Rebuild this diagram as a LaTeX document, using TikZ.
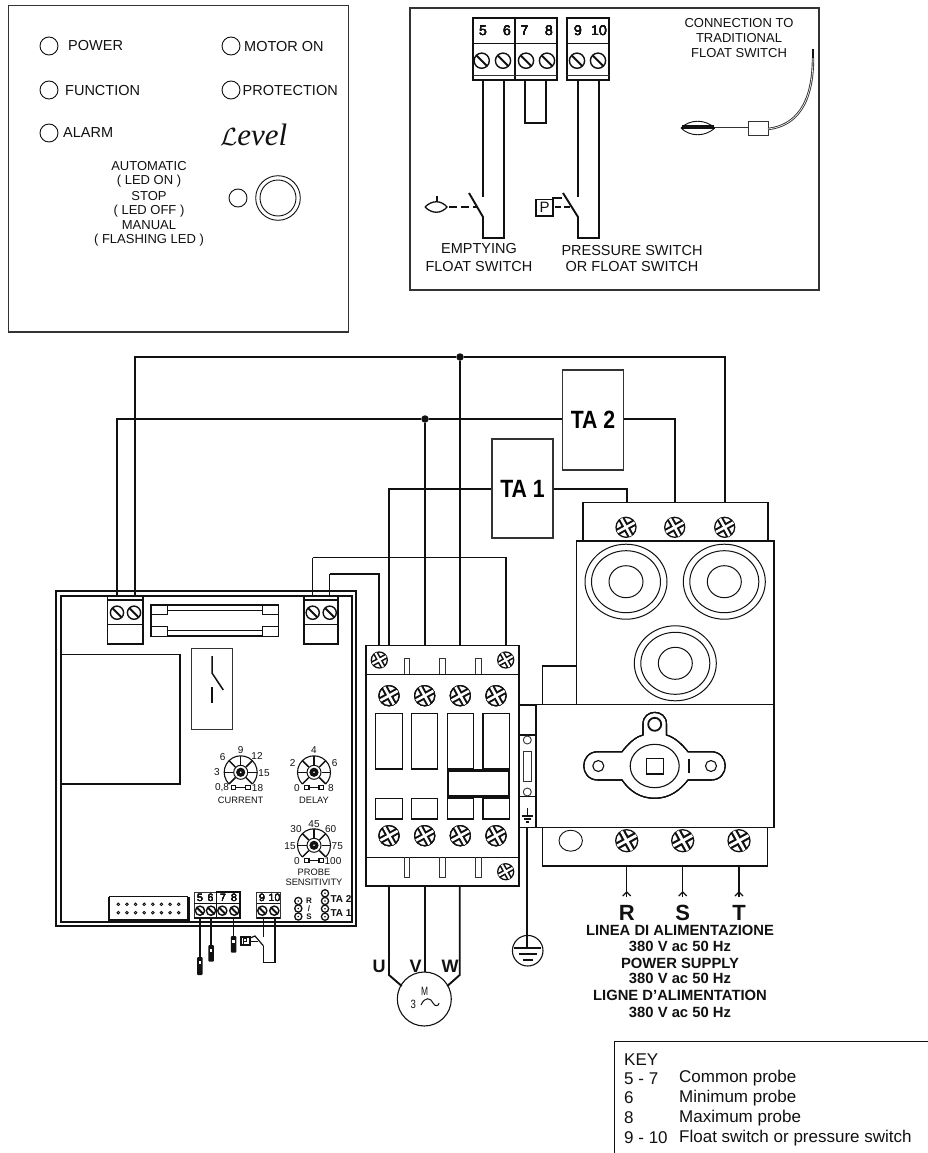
\documentclass[tikz,border=0pt]{standalone}
\usepackage{fontspec}
\setmainfont{Liberation Sans}
\newfontfamily\levelfont{Liberation Serif}
\usetikzlibrary{calc}
\definecolor{ink}{HTML}{111111}
\definecolor{edge}{HTML}{333333}
\tikzset{
  thinline/.style={draw=edge,line width=1.1pt},
  wire/.style={draw=ink,line width=1.9pt},
  wirethin/.style={draw=ink,line width=1.2pt},
  heavy/.style={draw=ink,line width=2pt},
  lbl/.style={inner sep=0pt,text=ink,font=\fontsize{#1}{#1}\selectfont},
  lbl/.default=14.5,
  blbl/.style={inner sep=0pt,text=ink,font=\bfseries\fontsize{#1}{#1}\selectfont},
  junction/.style={circle,fill=ink,inner sep=0pt,minimum size=7.5pt},
  tabox/.style={rectangle,draw=edge,line width=1.1pt,fill=white,inner sep=0pt,minimum width=61pt,minimum height=99pt,font=\bfseries\fontsize{25}{25}\selectfont}
}
% slotted screw
\newcommand{\slotscrew}[3]{%
  \draw[draw=ink,line width=1.4pt,fill=white] (#1,#2) circle (#3);
  \draw[draw=ink,line width=1.9pt] ($(#1,#2)+(-.72*#3,-.72*#3)$) -- ($(#1,#2)+(.72*#3,.72*#3)$);}
% cross-head screw
\newcommand{\crossscrew}[3]{%
  \draw[draw=ink,line width=1.3pt,fill=white] (#1,#2) circle (#3);
  \begin{scope}
  \clip (#1,#2) circle (#3);
  \draw[draw=ink,line width=#3*.66pt] ($(#1,#2)+(-#3,.55*#3)$) -- ($(#1,#2)+(#3,-.55*#3)$);
  \draw[draw=ink,line width=#3*.66pt] ($(#1,#2)+(-.55*#3,-#3)$) -- ($(#1,#2)+(.55*#3,#3)$);
  \draw[draw=white,line width=#3*.26pt] ($(#1,#2)+(-#3,.55*#3)$) -- ($(#1,#2)+(#3,-.55*#3)$);
  \draw[draw=white,line width=#3*.26pt] ($(#1,#2)+(-.55*#3,-#3)$) -- ($(#1,#2)+(.55*#3,#3)$);
  \end{scope}}
% potentiometer dial
\newcommand{\dial}[2]{%
  \draw[draw=ink,line width=1.1pt] plot[smooth,domain=135:405,samples=19] ({#1+16.5*cos(\x)},{#2+16.5*sin(\x)});
  \foreach \a in {135,180,225,270,315,360,405}{
    \draw[draw=ink,line width=1.5pt] ({#1+7.5*cos(\a)},{#2+7.5*sin(\a)}) -- ({#1+16.5*cos(\a)},{#2+16.5*sin(\a)});}
  \draw[draw=ink,line width=1pt,fill=white] (#1,#2) circle (7);
  \fill[ink] (#1,#2) circle (4.6);
  \fill[white] (#1,#2) circle (.9);
  \draw[draw=ink,line width=1pt] ({#1-7},{#2+15.5}) -- ({#1+7},{#2+15.5});
  \draw[draw=ink,line width=1.1pt,fill=white] ({#1-9.5},{#2+13.5}) rectangle ({#1-5},{#2+17.5});
  \draw[draw=ink,line width=1.1pt,fill=white] ({#1+5},{#2+13.5}) rectangle ({#1+9.5},{#2+17.5});}
\begin{document}
\begin{tikzpicture}[x=1pt,y=-1pt]
\useasboundingbox (0,0) rectangle (928,1153);
\fill[white] (0,0) rectangle (928,1153);

%% ---------- front panel
\draw[thinline] (8.5,5.5) rectangle (348.5,332);
\foreach \cx/\cy/\r in {49/46/9,49/90/9,49/133/9,231/46/9,231/90/9,238/198/9}
  \draw[draw=ink,line width=.9pt] (\cx,\cy) circle (\r);
\draw[draw=ink,line width=.9pt] (278,198) circle (22.3);
\draw[draw=ink,line width=.9pt] (278,198) circle (18);
\node[lbl,anchor=west] (tpower) at (68,46) {POWER};
\node[lbl,anchor=west] (tfunc) at (65,90.5) {FUNCTION};
\node[lbl,anchor=west] (talarm) at (63,132.5) {ALARM};
\node[lbl,anchor=west] (tmotor) at (244,47) {MOTOR ON};
\node[lbl,anchor=west] (tprot) at (242.5,90.5) {PROTECTION};
\node[inner sep=0pt,anchor=west,text=ink] (tlevel) at (220,135) {\fontsize{31}{31}\selectfont$\mathcal{L}$\levelfont\itshape evel};
\foreach \n/\y/\t in {a1/166/AUTOMATIC,a2/181/( LED ON ),a3/196/STOP,a4/211/( LED OFF ),a5/225/MANUAL,a6/240.5/( FLASHING LED )}
  \node[lbl=13] (\n) at (149,\y) {\t};

%% ---------- terminal panel
\draw[thinline] (410,8) rectangle (819,290);
\draw[heavy,fill=white] (473,18) rectangle (515,80);
\draw[heavy,fill=white] (515,18) rectangle (557,80);
\draw[heavy,line width=1.3pt,fill=white] (567,18) rectangle (609,80);
\foreach \a/\b in {473/557,567/609}{
  \draw[draw=ink,line width=1pt] (\a,44) -- (\b,44);
  \draw[draw=edge,line width=1pt] (\a,76) -- (\b,76);}
\foreach \sx in {481.7,503,526,547,577,598} \slotscrew{\sx}{60.7}{7.6}
\foreach \n/\sx/\t in {n5/483/5,n6/507/6,n7/524.5/7,n8/549/8,n9/578/9,n10/599/10}
  \node[lbl=14] (\n) at (\sx,31) {\t};
\draw[wire] (483,80) -- (483,197);
\draw[wire] (469,193) -- (483,217) -- (483,238) -- (504,238) -- (504,80);
\draw[wire] (525,80) -- (525,123) -- (546,123) -- (546,80);
\draw[wire] (578,80) -- (578,197);
\draw[wire] (563,193) -- (578,217) -- (578,238) -- (599,238) -- (599,80);
% float symbol
\draw[draw=ink,line width=1.3pt] (425,207) .. controls (432,200) and (441,200) .. (447,207) .. controls (441,214) and (432,214) .. (425,207);
\draw[draw=ink,line width=1.5pt] (437,196) -- (437,202);
\draw[draw=ink,line width=1.5pt,dash pattern=on 8pt off 4pt] (449,207) -- (478,207);
% P symbol
\draw[draw=ink,line width=1pt] (536,199) rectangle (552,215);
\draw[draw=ink,line width=2pt] (536,199) -- (536,216) -- (553,216) -- (553,198) -- (562,198);
\node[lbl=15] (pbig) at (544.5,207.3) {P};
\draw[draw=ink,line width=1.5pt,dash pattern=on 6pt off 3pt] (555,207) -- (571,207);
\node[lbl] (l1) at (479,249) {EMPTYING};
\node[lbl] (l2) at (479,267) {FLOAT SWITCH};
\node[lbl] (l3) at (632,251) {PRESSURE SWITCH};
\node[lbl] (l4) at (632,267) {OR FLOAT SWITCH};
\node[lbl=13] (l5) at (739,23) {CONNECTION TO};
\node[lbl=13] (l6) at (739,38) {TRADITIONAL};
\node[lbl=13] (l7) at (739,53) {FLOAT SWITCH};
% traditional float
\draw[draw=ink,line width=.9pt] (681,128) .. controls (690,119) and (705,119) .. (715,128) .. controls (705,137) and (690,137) .. (681,128);
\draw[draw=ink,line width=4.5pt] (682,127) -- (714,127);
\draw[draw=edge,line width=.9pt,double=white,double distance=.6pt] (715,128) -- (748,128);
\draw[draw=edge,line width=1pt,fill=white] (748,122) rectangle (768,135);
\draw[draw=edge,line width=.9pt,double=white,double distance=.6pt] (768,129) .. controls (795,126) and (813,105) .. (813,58);
\draw[draw=ink,line width=1.3pt] (813,49.5) -- (813,58);

%% ---------- controller board
\draw[heavy] (55.7,590.7) rectangle (355.7,925.7);
\draw[heavy] (61,595.7) rectangle (352,922);
% transformer block
\draw[wirethin] (61,654.3) -- (180,654.3) -- (180,784) -- (61,784);
% relay
\draw[thinline] (191.3,648.7) rectangle (232.3,729.3);
\draw[draw=ink,line width=1.5pt] (212,656) -- (212,673) -- (223.3,690);
\draw[draw=ink,line width=1.5pt] (212,687) -- (212,703);
% fuse
\draw[draw=ink,line width=1.4pt,fill=white] (151,605) rectangle (278.7,636);
\draw[draw=ink,line width=1pt] (167,610.7) -- (262,610.7);
\draw[draw=ink,line width=1pt] (167,630) -- (262,630);
\foreach \xa/\xb in {151/167.3,262.3/278.7}{
  \draw[draw=ink,line width=1pt,fill=white] (\xa,605) rectangle (\xb,614);
  \draw[draw=ink,line width=1pt,fill=white] (\xa,626.7) rectangle (\xb,636);}
% top terminals
\foreach \xa/\xb/\sa/\sb in {107.7/143/117/134,304/338/312.7/329.7}{
  \draw[draw=ink,line width=1.2pt,fill=white] (\xa,596.7) rectangle (\xb,644);
  \draw[draw=ink,line width=1.8pt] (\xa,600) -- (\xb,600);
  \draw[draw=ink,line width=1pt] (\xa,624) -- (\xb,624);
  \slotscrew{\sa}{612.7}{6.6}
  \slotscrew{\sb}{612.7}{6.6}}
% dials
\dial{240.7}{772.3}
\dial{314}{772.3}
\dial{314}{845.3}
\foreach \n/\px/\py/\t in {c1/222.7/756.7/6,c2/240.7/750/9,c3/257/756/12,c4/217/772.5/3,c5/264/772.7/15,c6/222/788/{0,8},c7/257.5/788/18,d1/314/750.5/4,d2/292.7/763/2,d3/334.7/763/6,d4/297/788/0,d5/331/788/8,p1/314/824.5/45,p2/296/829/30,p3/330.7/829/60,p4/290/845.7/15,p5/337.3/846/75,p6/297/861/0,p7/333/861/100}
  \node[lbl=10] (\n) at (\px,\py) {\t};
\node[lbl=9.3] (tcur) at (240.7,800) {CURRENT};
\node[lbl=9.3] (tdel) at (314,800) {DELAY};
\node[lbl=9.3] (tprobe) at (314,872.5) {PROBE};
\node[lbl=9.3] (tsens) at (314,882.5) {SENSITIVITY};
% header
\draw[draw=ink,line width=1pt] (109,896.7) -- (188.3,896.7);
\draw[draw=ink,line width=2.4pt] (109,896.7) -- (109,920) -- (188.3,920) -- (188.3,896.7);
\foreach \i in {0,...,7}{
  \draw[draw=ink,line width=.9pt] ({118.3+\i*8.63},904.3) circle (1.3);
  \draw[draw=ink,line width=.9pt] ({118.3+\i*8.63},912.7) circle (1.3);}
% bottom terminals
\draw[draw=edge,line width=.9pt,fill=white] (194.3,892.3) rectangle (216.7,918.3);
\draw[draw=ink,line width=1.5pt,fill=white] (216.7,891.8) rectangle (240,918.3);
\draw[draw=edge,line width=.9pt,fill=white] (256.7,892.3) rectangle (280,918.3);
\draw[draw=ink,line width=1pt] (194.3,903.3) -- (240,903.3);
\draw[draw=ink,line width=1pt] (256.7,903.3) -- (280,903.3);
\draw[draw=ink,line width=1.6pt] (194.3,918) -- (240,918);
\draw[draw=ink,line width=1.6pt] (256.7,918) -- (280,918);
\foreach \sx in {200,211,222.3,234.3,262.3,274.3} \slotscrew{\sx}{910.7}{4.6}
\foreach \n/\sx/\t in {b5/200/5,b6/210.5/6,b7/223/7,b8/234/8,b9/262/9,b10/274.5/10}
  \node[lbl=10.5] (\n) at (\sx,898) {\t};
% R/S, TA pads
\foreach \py in {901,908.5,916.5}{
  \draw[draw=ink,line width=1.3pt] (298.3,\py) circle (3.6);
  \fill[ink] (298.3,\py) circle (.9);}
\foreach \py in {893.3,901,908.7,916.7}{
  \draw[draw=ink,line width=1.3pt] (325,\py) circle (3.6);
  \fill[ink] (325,\py) circle (.9);}
\node[blbl=8] (rr) at (309,901) {R};
\node[blbl=8] (rs) at (309,909) {/};
\node[blbl=8] (rt) at (309,917) {S};
\node[blbl=10] (ta2s) at (341,899) {TA 2};
\node[blbl=10] (ta1s) at (341,913) {TA 1};
% probes
\coordinate (w5) at (200,918);
\coordinate (w6) at (211.3,918);
\coordinate (w8) at (233.5,918);
\coordinate (w5e) at (200,957);
\coordinate (w6e) at (211.3,945);
\coordinate (w8e) at (233.5,936);
\draw[wire] (w5) -- (w5e);
\draw[wire] (w6) -- (w6e);
\draw[wire] (w8) -- (w8e);
\foreach \xa/\ya/\yb in {197/957/975,208.3/945/961.7,230.8/936/952.7}{
  \fill[ink,rounded corners=1pt] (\xa,\ya) rectangle ({\xa+5.6},\yb);
  \fill[white] ({\xa+1.6},{\ya+3.5}) rectangle ({\xa+4},{\ya+7});}
% small P switch
\draw[draw=ink,line width=1.8pt] (240.7,937) rectangle (250,945);
\draw[draw=ink,line width=1pt] (243,943.5) -- (243,938.5) -- (246,938.5) -- (246,941) -- (243,941);
\draw[draw=ink,line width=1.2pt] (250,938) -- (255,936) -- (263.3,945.7);
\draw[draw=ink,line width=1pt] (250,941) -- (258,941);
\draw[draw=ink,line width=.9pt] (263.3,918) -- (263.3,937);
\draw[draw=ink,line width=1.5pt] (263.3,945.7) -- (263.3,962.7) -- (275,962.7) -- (275,918);

%% ---------- contactor
\draw[draw=ink,line width=1.4pt,fill=white] (366,645.7) rectangle (519,886);
\draw[draw=ink,line width=1.3pt] (366,674.3) -- (519,674.3);
\draw[draw=ink,line width=1.3pt] (366,857.3) -- (519,857.3);
\foreach \sx in {406.7,442.3,478.3}{
  \draw[draw=edge,line width=1pt] ({\sx-2.7},674.3) -- ({\sx-2.7},658.5) -- ({\sx+2.7},658.5) -- ({\sx+2.7},674.3);
  \draw[draw=edge,line width=1pt] ({\sx-2.7},857.3) -- ({\sx-2.7},877.3) -- ({\sx+2.7},877.3) -- ({\sx+2.7},857.3);}
\foreach \sx/\sy in {379.3/660,505.7/660,505.7/871.7} \crossscrew{\sx}{\sy}{8}
\foreach \sx in {389,424.7,460.3,496}{
  \crossscrew{\sx}{695.7}{10}
  \crossscrew{\sx}{835.7}{10}}
\foreach \xa/\xb in {375.7/402.3,411.7/437.3,447.7/473.3,483/509.3}{
  \draw[draw=ink,line width=1.5pt] (\xa,713.3) rectangle (\xb,769);
  \draw[draw=ink,line width=1.5pt] (\xa,798.7) rectangle (\xb,819);}
\draw[draw=ink,line width=2.2pt,fill=white] (447.7,770.5) rectangle (509.3,796.5);
% side auxiliary
\draw[draw=ink,line width=1.2pt] (519.3,705) rectangle (536,827.3);
\draw[draw=ink,line width=1.4pt] (519.3,735) -- (536,735);
\draw[draw=ink,line width=1.4pt] (519.3,796.7) -- (536,796.7);
\draw[draw=edge,line width=.9pt] (527.3,740) circle (4);
\draw[draw=edge,line width=.9pt] (527.3,792) circle (4);
\draw[draw=edge,line width=.9pt] (523.3,751.7) rectangle (531.7,781);
\draw[draw=ink,line width=1.3pt] (527.3,808) -- (527.3,816);
\draw[draw=ink,line width=1.3pt] (522,816) -- (532.6,816);
\draw[draw=ink,line width=1.3pt] (524,819) -- (530.6,819);
\draw[draw=ink,line width=1.3pt] (525.8,822) -- (528.8,822);

%% ---------- earth
\draw[draw=ink,line width=1.1pt] (527.7,950.7) circle (15.3);
\coordinate (earthtop) at (527.3,827.3);
\coordinate (earthend) at (527.3,948);
\draw[wire] (earthtop) -- (earthend);
\draw[draw=ink,line width=1.4pt] (514,948) -- (541,948);
\draw[draw=ink,line width=1.4pt] (519,954) -- (536.5,954);
\draw[draw=ink,line width=1.4pt] (523,960) -- (532.5,960);

%% ---------- motor
\node[circle,draw=ink,line width=1.1pt,inner sep=0pt,minimum size=54pt] (motor) at (424.3,999) {};
\coordinate (kU) at (389,886);
\coordinate (kV) at (424.7,886);
\coordinate (kW) at (459.7,886);
\draw[wire] (kU) -- (389,975) -- (401.7,986);
\draw[wire] (kV) -- (424.7,972);
\draw[wire] (kW) -- (459.7,975) -- (447.3,986);
\node[blbl=18] (tu) at (379,966) {U};
\node[blbl=18] (tv) at (415.7,966) {V};
\node[blbl=18] (tw) at (450,966) {W};
\node[lbl=12] (tm) at (424.7,991.7) {\scalebox{.7}[1]{M}};
\node[lbl=12] (t3) at (413.3,1004) {\scalebox{.8}[1]{3}};
\draw[draw=ink,line width=1pt] (421,1005) .. controls (425,996) and (431,998) .. (433,1003) .. controls (435,1007) and (439,1006) .. (439,1003);

%% ---------- breaker
\draw[draw=ink,line width=1.1pt] (583,502.7) rectangle (768,541);
\foreach \sx in {626,674.7,724.7} \crossscrew{\sx}{527.3}{10}
\draw[draw=ink,line width=1.2pt] (576.7,541) rectangle (774,704.7);
\draw[draw=ink,line width=1.1pt] (542.7,704.7) -- (542.7,666) -- (576.7,666);
\foreach \cx/\cy in {626/581.7,724.3/581.7,675.3/663.3}{
  \draw[draw=ink,line width=1pt] (\cx,\cy) ellipse [x radius=41,y radius=37.5];
  \draw[draw=ink,line width=1pt] (\cx,\cy) ellipse [x radius=34.5,y radius=31];
  \draw[draw=ink,line width=1pt] (\cx,\cy) ellipse [x radius=17,y radius=16];}
\draw[draw=ink,line width=1.2pt] (536,704.7) rectangle (774,827.3);
\draw[draw=ink,line width=1.1pt] (542.7,827.3) rectangle (767.3,866);
\draw[draw=ink,line width=.9pt] (570.7,840.7) ellipse [x radius=11.7,y radius=10.5];
\foreach \sx in {626.7,682.7,739} \crossscrew{\sx}{840.7}{11}
% rotary handle
\draw[draw=ink,line width=1.1pt] (598,751.7) -- (622,751.7) .. controls (628,744) and (635,737) .. (643,735) -- (643,724) .. controls (643,708.5) and (666.5,708.5) .. (666.5,724) -- (666.5,735) .. controls (674,737) and (682,744) .. (688,751.7) -- (711,751.7) .. controls (730,751.7) and (730,780) .. (711,780) -- (688,780) .. controls (680,790) and (670,798.3) .. (654.7,798.3) .. controls (639,798.3) and (629,790) .. (622,780) -- (598,780) .. controls (579,780) and (579,751.7) .. (598,751.7) -- cycle;
\draw[draw=ink,line width=1.1pt] (654.7,766) ellipse [x radius=24.5,y radius=21.7];
\draw[draw=ink,line width=1.1pt] (646.3,758.7) rectangle (663.7,774);
\draw[draw=ink,line width=1.8pt] (654.7,724.3) circle (6.5);
\draw[draw=ink,line width=1.1pt] (598.3,766) circle (5.5);
\draw[draw=ink,line width=1.1pt] (711,766) circle (5.5);
\draw[draw=ink,line width=1.6pt] (689,759) -- (689,773);
% supply stubs
\foreach \n/\sx/\t in {R/626.7/R,S/682.7/S,T/739/T}{
  \coordinate (in\n) at (\sx,866);
  \coordinate (end\n) at (\sx,897);
  \draw[draw=ink,line width=1.5pt] (in\n) -- (end\n);
  \draw[draw=ink,line width=1.2pt] ({\sx-4},896) -- (\sx,892) -- ({\sx+4},896);
  \node[blbl=22] (t\n) at (\sx,912.5) {\t};}
\foreach \n/\y/\t in {s1/930.7/LINEA DI ALIMENTAZIONE,s2/946.7/380 V ac 50 Hz,s3/963/POWER SUPPLY,s4/978/380 V ac 50 Hz,s5/995.7/LIGNE D'ALIMENTATION,s6/1012/380 V ac 50 Hz}
  \node[blbl=14.8] (\n) at (680,\y) {\t};

%% ---------- wiring
\node[junction] (j1) at (460,357) {};
\node[junction] (j2) at (425,419) {};
\node[tabox,minimum height=100pt] (ta2) at (593,420) {\scalebox{.85}[1]{TA 2}};
\node[tabox] (ta1) at (522.5,488.5) {\scalebox{.85}[1]{TA 1}};
\coordinate (bL1) at (117,597);
\coordinate (bL2) at (135,597);
\coordinate (bR1) at (312.7,597);
\coordinate (bR2) at (329.5,597);
\coordinate (k1) at (379,645.7);
\coordinate (k2) at (389,645.7);
\coordinate (k3) at (425,645.7);
\coordinate (k4) at (460,645.7);
\coordinate (k5) at (506,645.7);
\coordinate (m1) at (627,502.7);
\coordinate (m2) at (675,502.7);
\coordinate (m3) at (725,502.7);
\draw[wire] (bL2) -- (135,357) -- (j1) -- (725,357) -- (m3);
\draw[wire] (bL1) -- (117,419) -- (j2) -- (ta2.west |- j2);
\draw[wire] (ta2.east |- j2) -- (675,419) -- (m2);
\draw[wire] (j1) -- (k4);
\draw[wire] (j2) -- (k3);
\draw[wire] (ta1.west |- 0,489) -- (389,489) -- (k2);
\draw[wire] (ta1.east |- 0,489) -- (627,489) -- (m1);
\draw[wirethin] (bR1) -- (312.7,557.5);
\draw[wire] (312.7,557.5) -- (506,557.5) -- (k5);
\draw[wirethin] (bR2) -- (329.5,574);
\draw[wire] (329.5,574) -- (379,574) -- (k1);

%% ---------- key
\draw[draw=ink,line width=1pt] (928,1041.7) -- (614.3,1041.7) -- (614.3,1153);
\foreach \n/\y/\a/\b in {k11/1059.5/KEY/,k12/1078.5/5 - 7/Common probe,k13/1098/6/Minimum probe,k14/1118/8/Maximum probe,k15/1138/9 - 10/Float switch or pressure switch}{
  \node[lbl=17,anchor=west] (\n a) at (624,\y) {\a};
  \node[lbl=17,anchor=west] (\n b) at (679,\y) {\b};}
\end{tikzpicture}
\end{document}
